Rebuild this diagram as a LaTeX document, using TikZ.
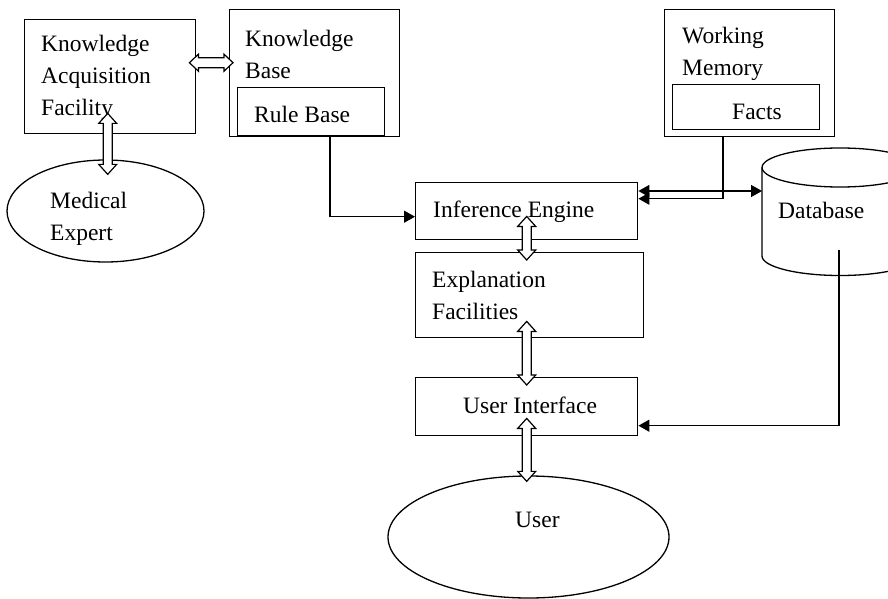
\documentclass[tikz,border=0pt]{standalone}
\usepackage{fontspec}
\setmainfont{Liberation Serif}
\usetikzlibrary{shapes.geometric,arrows.meta,calc}
\newcommand\mklines[1]{\vtop{\baselineskip=32pt\lineskiplimit=-100pt #1}}
\tikzset{
  box/.style={draw, line width=1.4pt, inner sep=0pt, anchor=north west},
  oval/.style={ellipse, draw, line width=1.3pt, inner sep=0pt},
  txt/.style={anchor=base west, inner sep=0pt, font=\fontsize{23.5pt}{32pt}\selectfont},
  arr/.style={line width=1.4pt, -{Triangle[length=11pt,width=12pt]}},
  arrboth/.style={line width=1.4pt, {Triangle[length=11pt,width=12pt]}-{Triangle[length=11pt,width=12pt]}},
  hollowv/.style={draw, fill=white, line width=1.2pt, line join=miter,
    to path={let \p1=(\tikztostart), \p2=(\tikztotarget) in
      (\x1,\y1) -- (\x1+9pt,\y1-10pt) -- (\x1+4.5pt,\y1-10pt) -- (\x1+4.5pt,\y2+10pt)
      -- (\x1+9pt,\y2+10pt) -- (\x1,\y2) -- (\x1-9pt,\y2+10pt) -- (\x1-4.5pt,\y2+10pt)
      -- (\x1-4.5pt,\y1-10pt) -- (\x1-9pt,\y1-10pt) -- cycle}},
  hollowh/.style={draw, fill=white, line width=1.2pt, line join=miter,
    to path={let \p1=(\tikztostart), \p2=(\tikztotarget) in
      (\x1,\y1) -- (\x1+9pt,\y1+8.5pt) -- (\x1+9pt,\y1+5pt) -- (\x2-9pt,\y1+5pt)
      -- (\x2-9pt,\y1+8.5pt) -- (\x2,\y1) -- (\x2-9pt,\y1-8.5pt) -- (\x2-9pt,\y1-5pt)
      -- (\x1+9pt,\y1-5pt) -- (\x1+9pt,\y1-8.5pt) -- cycle}}
}
\begin{document}
\begin{tikzpicture}[x=1pt,y=-1pt]
\fill[white] (0,0) rectangle (888,599);
\useasboundingbox (0,0) rectangle (888,599);
\begin{scope}
\clip (0,0) rectangle (888,599);

% boxes
\node[box, minimum width=171pt, minimum height=114pt] (kaf) at (24,19) {};
\node[box, minimum width=170pt, minimum height=127pt] (kb) at (229,9) {};
\node[box, minimum width=147pt, minimum height=48pt] (rb) at (237,87) {};
\node[box, minimum width=170pt, minimum height=127pt] (wm) at (664,9) {};
\node[box, minimum width=147pt, minimum height=45pt] (facts) at (672,84) {};
\node[box, minimum width=222pt, minimum height=57pt] (ie) at (415,182) {};
\node[box, minimum width=228pt, minimum height=85pt] (ef) at (415,252) {};
\node[box, minimum width=222pt, minimum height=58pt] (ui) at (415,377) {};
\node[oval, minimum width=197pt, minimum height=102pt] (me) at (105.5,211) {};
\node[oval, minimum width=281pt, minimum height=122pt] (user) at (528.5,537) {};

% database cylinder
\draw[line width=1.3pt] (840,167.5) ellipse[x radius=78, y radius=19.5];
\draw[line width=1.3pt] (762,167.5) -- (762,256)
  arc[start angle=180, end angle=0, x radius=78, y radius=19.5] -- (918,167.5);
\coordinate (dbw) at (762,191);
\coordinate (dbin) at (839,250);

% texts
\node[txt] (tkaf) at (41,52) {\mklines{\hbox{Knowledge}\hbox{Acquisition}\hbox{Facility}}};
\node[txt] (tkb) at (245,47) {\mklines{\hbox{Knowledge}\hbox{Base}}};
\node[txt] (trb) at (254,123) {Rule Base};
\node[txt] (twm) at (682,44) {\mklines{\hbox{Working}\hbox{Memory}}};
\node[txt] (tfacts) at (732,120) {Facts};
\node[txt] (tie) at (433,217) {Inference Engine};
\node[txt] (tef) at (432,287) {\mklines{\hbox{Explanation}\hbox{Facilities}}};
\node[txt] (tui) at (463,413) {User Interface};
\node[txt] (tuser) at (515,527) {User};
\node[txt] (tme) at (50,208) {\mklines{\hbox{Medical}\hbox{Expert}}};
\node[txt] (db) at (778,218) {Database};

% plain connectors
\draw[arr] ($(rb.south west)+(93,0)$) |- ($(ie.west)+(0,5.5)$);
\draw[arr] ($(wm.south west)+(59,0)$) |- ($(ie.east)+(0,-12.5)$);
\draw[arrboth] (ie.east |- dbw) -- (dbw);
\draw[arr] (dbin) |- ($(ui.east)+(0,19)$);

% hollow double arrows
\draw[hollowh] ($(kaf.east)+(-7,-14)$) to ($(kb.west)+(4,-10.5)$);
\draw[hollowv] ($(kaf.south)+(-2.5,-21)$) to ($(me.north)+(1.5,15)$);
\draw[hollowv] ($(ie.south)+(0,-24)$) to ($(ef.north)+(0,8)$);
\draw[hollowv] ($(ef.south)+(-3,-17)$) to ($(ui.north)+(0,8)$);
\draw[hollowv] ($(ui.south)+(0,-18)$) to ($(user.north)+(-2.5,6)$);
\end{scope}
\end{tikzpicture}
\end{document}
